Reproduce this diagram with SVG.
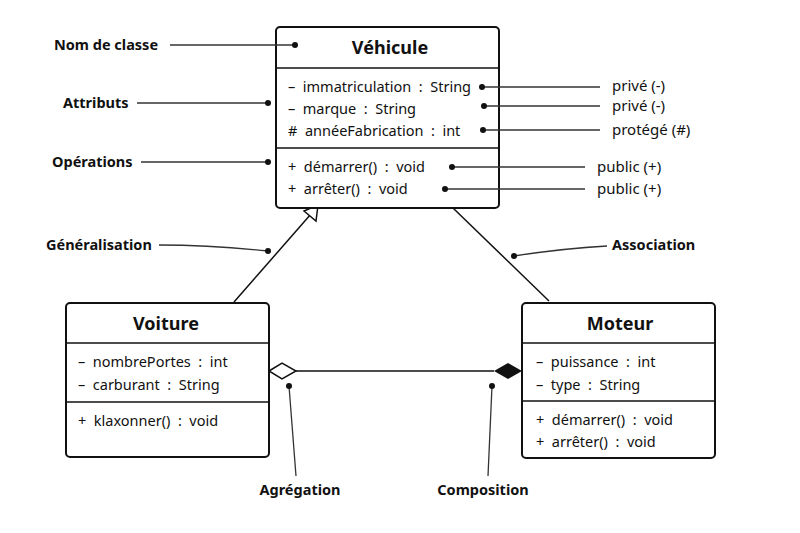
<svg xmlns="http://www.w3.org/2000/svg" width="800" height="533" viewBox="0 0 800 533">
<style>
text{font-family:"Noto Sans","Open Sans","DejaVu Sans",sans-serif;fill:#111;white-space:pre}
.t{font-size:18px;font-weight:bold;text-anchor:middle}
.m{font-size:14.5px}
.l{font-size:14.5px;font-weight:bold}
.r{font-size:15px}
.box{fill:#fff;stroke:#111;stroke-width:2}
.ln{stroke:#111;stroke-width:1.5;fill:none}
.c{stroke:#333;stroke-width:1.3;fill:none}
</style>
<rect width="800" height="533" fill="#fff"/>
<g id="connectors">
<line class="ln" x1="234" y1="302" x2="311" y2="214"/>
<polygon points="318,205 316,221 304,211" fill="#fff" stroke="#111" stroke-width="1.5"/>
<line class="ln" x1="453" y1="208" x2="549" y2="301"/>
<line class="ln" x1="296" y1="371" x2="494" y2="371"/>
<polygon points="269,371 282,363 296,371 282,379" fill="#fff" stroke="#111" stroke-width="1.5"/>
<polygon points="494,371 508,363 522,371 508,379" fill="#111"/>
</g>
<g id="Vehicule">
<rect class="box" x="276" y="27" width="223" height="181" rx="4"/>
<line class="ln" x1="276" y1="68" x2="499" y2="68"/>
<line class="ln" x1="276" y1="148" x2="499" y2="148"/>
<text class="t" x="390" y="54">Véhicule</text>
<text class="m" x="288" y="92">–  immatriculation  :  String</text>
<text class="m" x="288" y="114">–  marque  :  String</text>
<text class="m" x="288" y="136">#  annéeFabrication  :  int</text>
<text class="m" x="288" y="172">+  démarrer()  :  void</text>
<text class="m" x="288" y="194">+  arrêter()  :  void</text>
</g>
<g id="Voiture">
<rect class="box" x="66" y="303" width="203" height="154" rx="4"/>
<line class="ln" x1="66" y1="343" x2="269" y2="343"/>
<line class="ln" x1="66" y1="402" x2="269" y2="402"/>
<text class="t" x="166" y="330">Voiture</text>
<text class="m" x="78" y="367">–  nombrePortes  :  int</text>
<text class="m" x="78" y="390">–  carburant  :  String</text>
<text class="m" x="78" y="426">+  klaxonner()  :  void</text>
</g>
<g id="Moteur">
<rect class="box" x="522" y="303" width="193" height="155" rx="4"/>
<line class="ln" x1="522" y1="343" x2="715" y2="343"/>
<line class="ln" x1="522" y1="401" x2="715" y2="401"/>
<text class="t" x="620" y="330">Moteur</text>
<text class="m" x="536" y="367">–  puissance  :  int</text>
<text class="m" x="536" y="390">–  type  :  String</text>
<text class="m" x="536" y="425">+  démarrer()  :  void</text>
<text class="m" x="536" y="447">+  arrêter()  :  void</text>
</g>
<g id="callouts" fill="#111">
<text class="l" x="54" y="50">Nom de classe</text>
<line class="c" x1="170" y1="45" x2="295" y2="45"/><circle cx="295" cy="45" r="3"/>
<text class="l" x="63" y="108">Attributs</text>
<line class="c" x1="137" y1="103" x2="268" y2="103"/><circle cx="268" cy="103" r="3"/>
<text class="l" x="52" y="167">Opérations</text>
<line class="c" x1="141" y1="162" x2="268" y2="162"/><circle cx="268" cy="162" r="3"/>
<text class="l" x="46" y="250">Généralisation</text>
<path class="c" d="M159,245 C210,245 240,248 268,251"/><circle cx="268" cy="251" r="3"/>
<text class="l" x="612" y="250">Association</text>
<path class="c" d="M607,246 C570,248 540,252 514,256"/><circle cx="514" cy="256" r="3"/>
<text class="r" x="612" y="91">privé (-)</text>
<line class="c" x1="482" y1="87" x2="600" y2="87"/><circle cx="482" cy="87" r="3"/>
<text class="r" x="612" y="111">privé (-)</text>
<line class="c" x1="484" y1="106" x2="600" y2="106"/><circle cx="484" cy="106" r="3"/>
<text class="r" x="612" y="135">protégé (#)</text>
<line class="c" x1="483" y1="130" x2="600" y2="130"/><circle cx="483" cy="130" r="3"/>
<text class="r" x="597" y="172">public (+)</text>
<line class="c" x1="452" y1="167" x2="585" y2="167"/><circle cx="452" cy="167" r="3"/>
<text class="r" x="597" y="194">public (+)</text>
<line class="c" x1="445" y1="189" x2="585" y2="189"/><circle cx="445" cy="189" r="3"/>
<line class="c" x1="289" y1="386" x2="296" y2="476"/><circle cx="289" cy="386" r="3"/>
<text class="l" x="300" y="495" text-anchor="middle">Agrégation</text>
<line class="c" x1="492" y1="386" x2="488" y2="476"/><circle cx="492" cy="386" r="3"/>
<text class="l" x="483" y="495" text-anchor="middle">Composition</text>
</g>
</svg>
